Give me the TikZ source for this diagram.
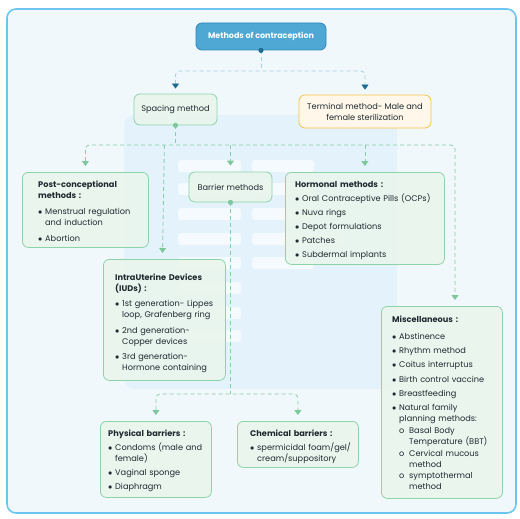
\documentclass[tikz,border=0pt]{standalone}
\usepackage{fontspec}
\setmainfont{Poppins}
\usetikzlibrary{arrows.meta}
\definecolor{framec}{HTML}{6CC5EF}
\definecolor{framefill}{HTML}{F1F8FC}
\definecolor{wm}{HTML}{E4F3FB}
\definecolor{rootfill}{HTML}{4FA7D3}
\definecolor{rootdraw}{HTML}{2E86B5}
\definecolor{bdashc}{HTML}{A6CFE0}
\definecolor{btip}{HTML}{1B6B94}
\definecolor{gfill}{HTML}{E9F5EC}
\definecolor{gdraw}{HTML}{8CD3A9}
\definecolor{gdashc}{HTML}{84CFA4}
\definecolor{gtip}{HTML}{7BC99B}
\definecolor{yfill}{HTML}{FFF8EA}
\definecolor{ydraw}{HTML}{F6C344}
\definecolor{ink}{HTML}{1F2A30}
\newlength\isep
\newcommand\bitem[1]{\par\vspace{\isep}\hangindent=7pt\hangafter=1\noindent\makebox[7pt][l]{$\bullet$}#1}
\newcommand\sitem[1]{\par\vspace{0.8pt}\hangindent=17pt\hangafter=1\noindent\hspace*{7pt}\makebox[10pt][l]{o}#1}
\begin{document}
\begin{tikzpicture}[x=1pt,y=-1pt,
  rootbox/.style={draw=rootdraw, fill=rootfill, line width=0.8pt, rounded corners=6pt, text=white, font=\fontsize{8}{10}\selectfont\bfseries, minimum width=130pt, minimum height=27pt},
  gbox/.style={draw=gdraw, fill=gfill, fill opacity=0.85, text opacity=1, line width=0.8pt, rounded corners=6pt, text=ink, font=\fontsize{8.2}{11}\selectfont, inner sep=0pt},
  ybox/.style={draw=ydraw, fill=yfill, line width=0.8pt, rounded corners=6pt, text=ink, font=\fontsize{8.2}{11}\selectfont, align=center, inner sep=0pt},
  txt/.style={inner sep=0pt, anchor=north west, text=ink, font=\fontsize{8.2}{11}\selectfont, align=left},
  bdash/.style={draw=bdashc, line width=0.8pt, dash pattern=on 4pt off 3pt, rounded corners=4pt},
  gdash/.style={draw=gdashc, line width=0.8pt, dash pattern=on 4pt off 3pt, rounded corners=4pt},
  btips/.style={{Triangle[width=7pt,length=5pt,color=btip]}-{Triangle[width=7pt,length=5pt,color=btip]}, shorten <=5pt, shorten >=5pt},
  gtips/.style={{Triangle[width=7pt,length=5pt,color=gtip]}-{Triangle[width=7pt,length=5pt,color=gtip]}, shorten <=6pt, shorten >=6pt},
  gtip1/.style={-{Triangle[width=7pt,length=5pt,color=gtip]}, shorten >=6pt},
  wbar/.style={fill=white, fill opacity=0.6, rounded corners=3pt}
]
\useasboundingbox (0,0) rectangle (520,519);
% frame
\draw[framec, line width=1.6pt, fill=framefill, rounded corners=9pt] (7,9) rectangle (516,513);
% watermark
\fill[wm, rounded corners=10pt] (124,115) rectangle (397,389);
\foreach \yy in {160,183,208,233,257,282,307,330} {\fill[wbar] (178,\yy) rectangle (241,\yy+12);}
\foreach \yy in {160,183,208,257} {\fill[wbar] (252,\yy) rectangle (314,\yy+12);}
\fill[wbar] (252,233) rectangle (343,245);

% boxes
\node[rootbox] (root) at (261,36.5) {Methods of contraception};
\node[gbox, minimum width=83pt, minimum height=31pt] (spacing) at (175.5,109.5) {Spacing method};
\node[ybox, minimum width=132pt, minimum height=33pt] (term) at (365,111.5) {Terminal method- Male and\\female sterilization};
\node[gbox, minimum width=126pt, minimum height=75pt, anchor=north west] (post) at (22,172) {};
\node[gbox, minimum width=83pt, minimum height=30pt] (barrier) at (230.5,187) {Barrier methods};
\node[gbox, minimum width=159pt, minimum height=92pt, anchor=north west] (horm) at (285,172) {};
\node[gbox, minimum width=122pt, minimum height=121pt, anchor=north west] (iud) at (103,259) {};
\node[gbox, minimum width=121pt, minimum height=192pt, anchor=north west] (misc) at (381,306) {};
\node[gbox, minimum width=111pt, minimum height=76pt, anchor=north west] (phys) at (100,421) {};
\node[gbox, minimum width=121pt, minimum height=46pt, anchor=north west] (chem) at (237,421) {};

% texts
\node[txt, text width=108pt] (posttxt) at (38,181) {\setlength\isep{5pt}\textbf{Post-conceptional}\\\textbf{methods :}\bitem{Menstrual regulation\newline and induction}\bitem{Abortion}\par};
\node[txt, text width=150pt] (hormtxt) at (295,181) {\setlength\isep{3pt}\textbf{Hormonal methods :}\bitem{Oral Contraceptive Pills (OCPs)}\bitem{Nuva rings}\bitem{Depot formulations}\bitem{Patches}\bitem{Subdermal implants}\par};
\node[txt, text width=110pt] (iudtxt) at (115,273.5) {\setlength\isep{4.5pt}\textbf{IntraUterine Devices}\\\textbf{(IUDs) :}\bitem{1st generation- Lippes\newline loop, Grafenberg ring}\bitem{2nd generation-\newline Copper devices}\bitem{3rd generation-\newline Hormone containing}\par};
\node[txt, text width=110pt] (misctxt) at (392,315.5) {\setlength\isep{3.2pt}\textbf{Miscellaneous :}\par\vspace{3pt}\bitem{Abstinence}\bitem{Rhythm method}\bitem{Coitus interruptus}\bitem{Birth control vaccine}\bitem{Breastfeeding}\bitem{Natural family\newline planning methods:}\sitem{Basal Body\newline Temperature (BBT)}\sitem{Cervical mucous\newline method}\sitem{symptothermal\newline method}\par};
\node[txt, text width=100pt] (phystxt) at (108,429.5) {\setlength\isep{3pt}\textbf{Physical barriers :}\bitem{Condoms (male and\newline female)}\bitem{Vaginal sponge}\bitem{Diaphragm}\par};
\node[txt, text width=110pt] (chemtxt) at (250,429.5) {\setlength\isep{3pt}\textbf{Chemical barriers :}\bitem{spermicidal foam/gel/\newline cream/suppository}\par};

% connectors: root
\coordinate (rj) at (261,71);
\draw[bdash] (root.south) -- (rj);
\draw[bdash, btips] (spacing.north) |- (rj) -| (term.north);
\fill[btip] (root.south) circle (2.6pt);

% connectors: spacing
\coordinate (gj) at (175.5,145);
\coordinate (miscin) at (455,306);
\draw[gdash] (spacing.south) -- (gj);
\draw[gdash, gtips] (post.north) |- (gj) -| (miscin);
\draw[gdash, gtip1] (iud.north |- gj) -- ([xshift=-2pt]iud.north);
\draw[gdash, gtip1] (barrier.north |- gj) -- (barrier.north);
\draw[gdash, gtip1] (horm.north |- gj) -- (horm.north);
\fill[gtip] (spacing.south) circle (2.6pt);

% connectors: barrier
\coordinate (bj) at (230.5,394);
\draw[gdash] (barrier.south) -- (bj);
\draw[gdash, gtips] (phys.north) |- (bj) -| (chem.north);
\fill[gtip] (barrier.south) circle (2.6pt);
\end{tikzpicture}
\end{document}
